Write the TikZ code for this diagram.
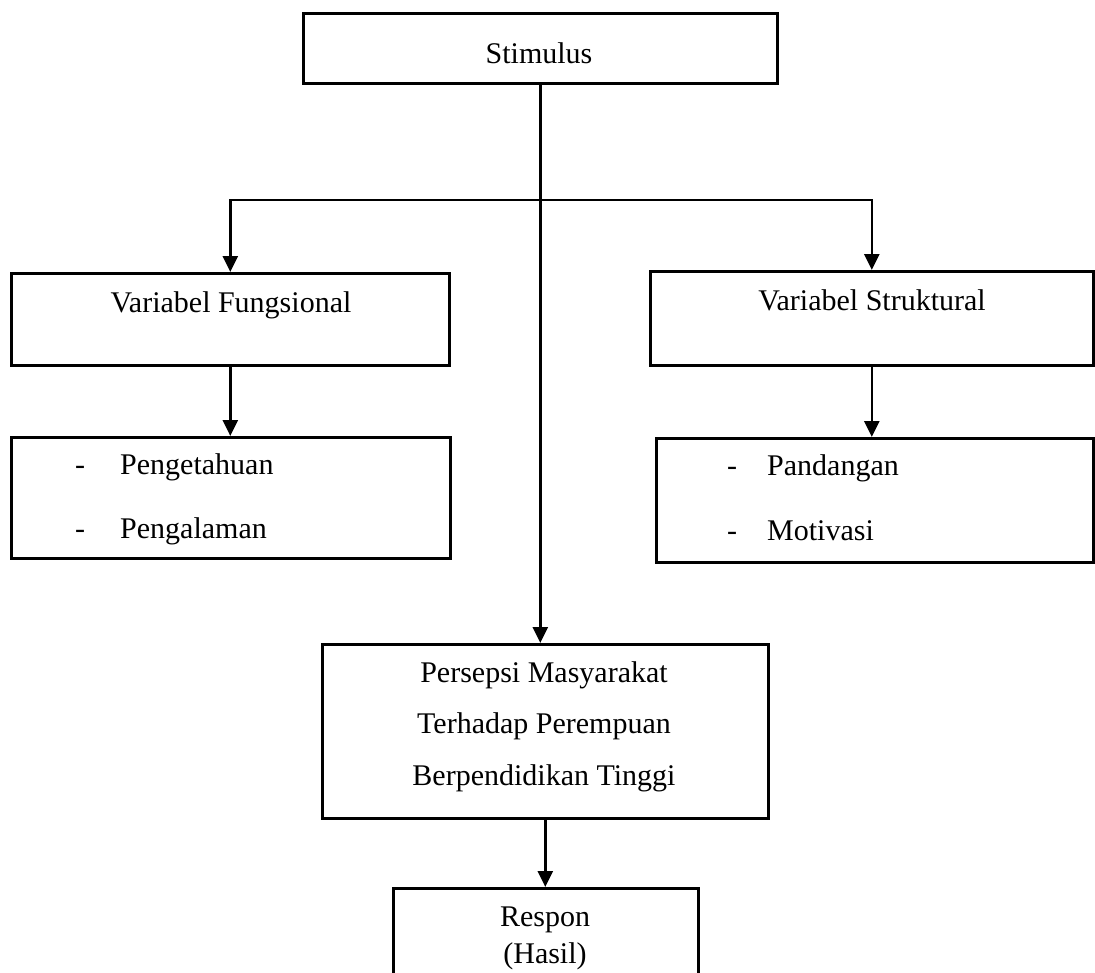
\documentclass[tikz,border=0pt]{standalone}
\usepackage{fontspec}
\setmainfont{Liberation Serif}
\usetikzlibrary{arrows.meta,calc}
\begin{document}
\begin{tikzpicture}[x=1pt,y=-1pt,
  box/.style={draw,line width=2.6pt,rectangle,inner sep=0pt,anchor=north west},
  lbl/.style={inner sep=0pt,anchor=base,font=\fontsize{30}{36}\selectfont},
  lbll/.style={lbl,anchor=base west},
  arr/.style={line width=2.6pt,-{Triangle[width=15pt,length=16pt]}},
  twoarr/.style={line width=2.6pt,{Triangle[width=15pt,length=16pt]}-{Triangle[width=15pt,length=16pt]}}]
\useasboundingbox (0,0) rectangle (1095,972);
\clip (0,0) rectangle (1095,972);

% boxes
\node[box,minimum width=474pt,minimum height=70pt] (stim) at (302,12) {};
\node[box,minimum width=438pt,minimum height=92pt] (vf) at (10,272) {};
\node[box,minimum width=443pt,minimum height=94pt] (vs) at (649,270) {};
\node[box,minimum width=439pt,minimum height=121pt] (peng) at (10,436) {};
\node[box,minimum width=437pt,minimum height=124pt] (pand) at (655,437) {};
\node[box,minimum width=446pt,minimum height=174pt] (pers) at (321,643) {};
\node[box,minimum width=305pt,minimum height=95pt] (resp) at (392,887) {};

% texts
\node[lbl] (stimT) at (539,63) {Stimulus};
\node[lbl] (vfT) at (231,312) {Variabel Fungsional};
\node[lbl] (vsT) at (872,310) {Variabel Struktural};
\node[lbl] (pengD1) at (80,474) {-};
\node[lbll] (pengT1) at (120,474) {Pengetahuan};
\node[lbl] (pengD2) at (80,538) {-};
\node[lbll] (pengT2) at (120,538) {Pengalaman};
\node[lbl] (pandD1) at (732,475) {-};
\node[lbll] (pandT1) at (767,475) {Pandangan};
\node[lbl] (pandD2) at (732,540) {-};
\node[lbll] (pandT2) at (767,540) {Motivasi};
\node[lbl] (persT1) at (544,682) {Persepsi Masyarakat};
\node[lbl] (persT2) at (544,733) {Terhadap Perempuan};
\node[lbl] (persT3) at (544,785) {Berpendidikan Tinggi};
\node[lbl] (respT1) at (545,926) {Respon};
\node[lbl] (respT2) at (545,963) {(Hasil)};

% connectors
\draw[arr] (stim.south) -- (stim.south |- pers.north);
\coordinate (bl) at ($(vf.north)+(0,-72)$);
\coordinate (br) at (bl -| vs.north);
\draw[twoarr] (vf.north) -- (bl) -- (br) -- (vs.north);
\draw[arr] (vf.south) -- (vf.south |- peng.north);
\draw[arr] (vs.south) -- (vs.south |- pand.north);
\draw[arr] (pers.south) -- (pers.south |- resp.north);
\end{tikzpicture}
\end{document}
